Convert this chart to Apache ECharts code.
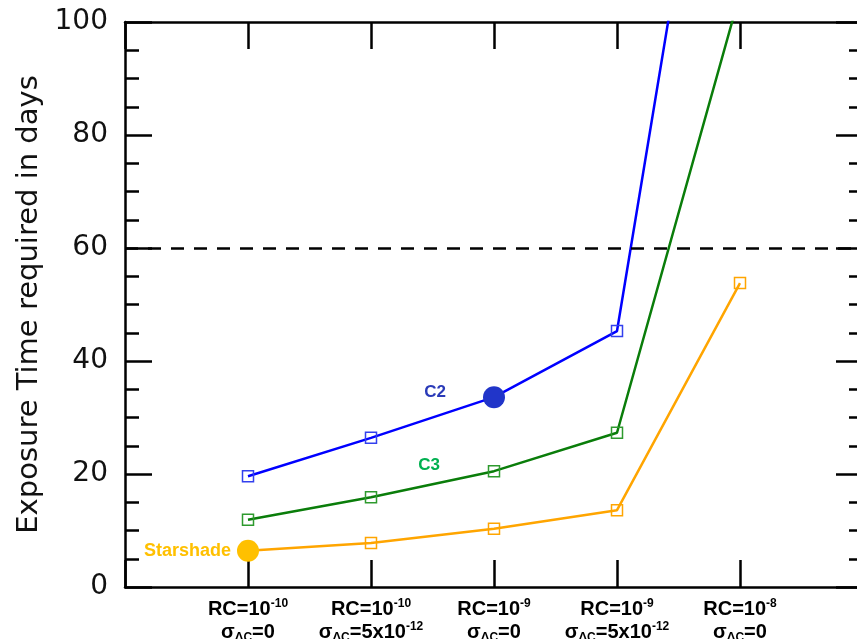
<!DOCTYPE html>
<html>
<head>
<meta charset="utf-8">
<script src="https://cdn.jsdelivr.net/npm/echarts@6/dist/echarts.min.js"></script>
<style>html,body{margin:0;padding:0;background:#fff}#c{width:857px;height:639px}</style>
</head>
<body>
<div id="c"></div>
<script>
// ---- data ----
const xPositions = [1, 2, 3, 4, 5];
const rcExponents = ['-10', '-10', '-9', '-9', '-8'];
const sigmaMantissa = ['0', '5x10', '0', '5x10', '0'];
const sigmaExponents = ['', '-12', '', '-12', ''];
const c2Values = [19.6, 26.4, 33.6, 45.3, 177];
const c3Values = [11.9, 15.9, 20.5, 27.3, 105];
const starshadeValues = [6.4, 7.8, 10.3, 13.6, 53.8];
const thresholdDays = 60;
const yTicks = [0, 20, 40, 60, 80, 100];

const chart = echarts.init(document.getElementById('c'), null, {renderer: 'canvas'});

function pairs(vals) { return xPositions.map((x, i) => [x, vals[i]]); }

const sq = (c) => ({ color: 'rgba(255,255,255,0)', borderColor: c, borderWidth: 1.5 });

const c2Data = pairs(c2Values).map((p, i) => {
  if (i === 2) return { value: p, symbol: 'circle', symbolSize: 22,
    itemStyle: { color: '#2135c9', borderWidth: 0 },
    label: { show: true, formatter: 'C2', position: 'inside', offset: [-59, -5],
      color: '#2a3ab8', fontSize: 17, fontWeight: 'bold', fontFamily: 'Liberation Sans' } };
  return p;
});
const c3Data = pairs(c3Values).map((p, i) => {
  if (i === 2) return { value: p,
    label: { show: true, formatter: 'C3', position: 'inside', offset: [-65, -6],
      color: '#00b050', fontSize: 17, fontWeight: 'bold', fontFamily: 'Liberation Sans' } };
  return p;
});
const ssData = pairs(starshadeValues).map((p, i) => {
  if (i === 0) return { value: p, symbol: 'circle', symbolSize: 22,
    itemStyle: { color: '#ffc000', borderWidth: 0 },
    label: { show: true, formatter: 'Starshade', position: 'left', distance: 6,
      color: '#ffc000', fontSize: 18, fontWeight: 'bold', fontFamily: 'Liberation Sans' } };
  return p;
});

const axisLine = { show: true, onZero: false, lineStyle: { color: '#000', width: 2.5 } };
const tick = { show: true, inside: true, length: 27, lineStyle: { color: '#000', width: 2.5 } };
const minor = { show: true, splitNumber: 4, length: 14, lineStyle: { color: '#000', width: 2.5 } };

const option = {
  backgroundColor: '#fff',
  animation: false,
  grid: { left: 125, top: 22, width: 738, height: 565, containLabel: false, outerBoundsMode: 'none' },
  xAxis: [{
    type: 'value', min: 0, max: 6, interval: 1, position: 'bottom',
    axisLine: axisLine, axisTick: tick,
    splitLine: { show: false },
    axisLabel: {
      margin: 11,
      formatter: (v) => {
        const i = xPositions.indexOf(v);
        if (i < 0) return '';
        let s = '{b|RC=10}{sup|' + rcExponents[i] + '}\n{b|σ}{sub|ΔC}{b|=' + sigmaMantissa[i] + '}';
        if (sigmaExponents[i]) s += '{sup|' + sigmaExponents[i] + '}';
        return s;
      },
      rich: {
        b: { fontSize: 20, fontWeight: 'bold', fontFamily: 'Liberation Sans', color: '#000', lineHeight: 23 },
        sup: { fontSize: 12, fontWeight: 'bold', fontFamily: 'Liberation Sans', color: '#000', lineHeight: 14, verticalAlign: 'top' },
        sub: { fontSize: 12, fontWeight: 'bold', fontFamily: 'Liberation Sans', color: '#000', lineHeight: 10, verticalAlign: 'bottom' }
      }
    }
  }, {
    type: 'value', min: 0, max: 6, interval: 1, position: 'top',
    axisLine: axisLine, axisTick: tick,
    axisLabel: { show: false }, splitLine: { show: false }
  }],
  yAxis: [{
    type: 'value', min: yTicks[0], max: yTicks[yTicks.length - 1], interval: 20, position: 'left',
    name: 'Exposure Time required in days', nameLocation: 'middle', nameGap: 78,
    nameTextStyle: { fontSize: 29, fontFamily: 'DejaVu Sans', color: '#111' },
    axisLine: axisLine, axisTick: tick, minorTick: minor,
    splitLine: { show: false },
    axisLabel: { margin: 17, fontSize: 28, fontFamily: 'DejaVu Sans', color: '#111' }
  }, {
    type: 'value', min: 0, max: 100, interval: 20, position: 'right',
    axisLine: axisLine, axisTick: tick, minorTick: minor,
    splitLine: { show: false }, axisLabel: { show: false }
  }],
  series: [{
    name: 'Starshade', type: 'line', data: ssData, clip: true,
    symbol: 'rect', symbolSize: 11, showSymbol: true,
    lineStyle: { color: '#ffa500', width: 2.5 }, itemStyle: sq('#ffa500'),
    z: 3,
    markLine: {
      silent: true, symbol: 'none', label: { show: false },
      lineStyle: { color: '#000', width: 2.5, type: [13, 10] },
      data: [{ yAxis: thresholdDays }]
    }
  }, {
    name: 'C3', type: 'line', data: c3Data, clip: true,
    symbol: 'rect', symbolSize: 11, showSymbol: true,
    lineStyle: { color: '#0a7d0a', width: 2.5 }, itemStyle: sq('#2e9a2e'), z: 3
  }, {
    name: 'C2', type: 'line', data: c2Data, clip: true,
    symbol: 'rect', symbolSize: 11, showSymbol: true,
    lineStyle: { color: '#0000ff', width: 2.5 }, itemStyle: sq('#3340ee'), z: 3
  }]
};
chart.setOption(option);
</script>
</body>
</html>
